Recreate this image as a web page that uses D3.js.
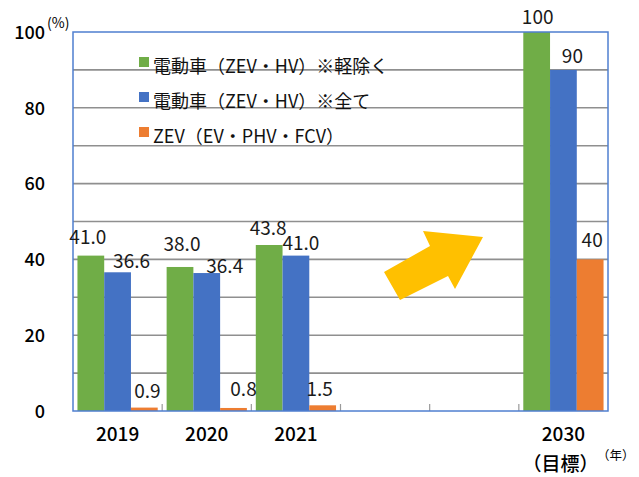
<!DOCTYPE html>
<html><head><meta charset="utf-8">
<script src="https://cdn.jsdelivr.net/npm/d3@7"></script>
<style>
html,body{margin:0;padding:0;background:#fff;}
svg{display:block;font-family:"Noto Sans CJK JP","Noto Sans",sans-serif;}
</style></head>
<body><svg id="c" width="639" height="477"></svg>
<script>
// ---- data ----
const categories = ["2019", "2020", "2021", "", "", "2030"];
const categorySub = ["", "", "", "", "", "（目標）"];
const seriesNames = ["電動車（ZEV・HV）※軽除く", "電動車（ZEV・HV）※全て", "ZEV（EV・PHV・FCV）"];
const seriesExclLight = [41.0, 38.0, 43.8, null, null, 100];
const seriesAll = [36.6, 36.4, 41.0, null, null, 90];
const seriesZEV = [0.9, 0.8, 1.5, null, null, 40];
const labelTexts = [
  ["41.0", "38.0", "43.8", null, null, "100"],
  ["36.6", "36.4", "41.0", null, null, "90"],
  ["0.9", "0.8", "1.5", null, null, "40"]
];
const yTickValues = [0, 20, 40, 60, 80, 100];
const yUnit = "(%)";
const xUnit = "（年）";

// ---- layout ----
const colors = ["#70AD47", "#4472C4", "#ED7D31"];
const series = [seriesExclLight, seriesAll, seriesZEV];
// per-label nudges [dx, gap above bar top]
const nudges = [
  [[-3,12],[2,16],[-1,10],null,null,[1,8]],
  [[14,4],[18,0],[5,6],null,null,[9,7]],
  [[3,10],[10,12],[-3,9],null,null,[2,12]]
];
const L = 73, R = 608, T = 32, B = 411;
const svg = d3.select("#c");

const x0 = d3.scaleBand().domain(d3.range(categories.length)).range([L, R])
  .paddingInner(0.1).paddingOuter(0.05);
const x1 = d3.scaleBand().domain(d3.range(series.length)).range([0, x0.bandwidth()]);
const y = d3.scaleLinear().domain([0, 100]).range([B, T]);

// gridlines every 10
const grid = svg.append("g");
grid.selectAll("line").data(d3.range(10, 100, 10)).join("line")
  .attr("x1", L).attr("x2", R).attr("y1", d => y(d)).attr("y2", d => y(d))
  .attr("stroke", "#8f8f8f").attr("stroke-width", 1.6);

// x boundary ticks
const step = x0.step();
svg.append("g").selectAll("line").data(d3.range(1, categories.length)).join("line")
  .attr("x1", d => L + d * step).attr("x2", d => L + d * step)
  .attr("y1", B).attr("y2", B - 7)
  .attr("stroke", "#9a9a9a").attr("stroke-width", 1.2);

// bars
series.forEach((vals, si) => {
  svg.append("g").selectAll("rect").data(vals.map((v, i) => ({v, i})).filter(d => d.v != null))
    .join("rect")
    .attr("x", d => x0(d.i) + x1(si))
    .attr("width", x1.bandwidth())
    .attr("y", d => y(d.v))
    .attr("height", d => y(0) - y(d.v))
    .attr("fill", colors[si]);
});

// frame (blue)
svg.append("rect").attr("x", L).attr("y", T).attr("width", R - L).attr("height", B - T)
  .attr("fill", "none").attr("stroke", "#4f7fd0").attr("stroke-width", 1.5);

// y axis labels
const yAxis = d3.axisLeft(y).tickValues(yTickValues).tickSize(0).tickPadding(0)
  .tickFormat(d3.format("d"));
const ya = svg.append("g").attr("transform", `translate(${L - 28},0)`).call(yAxis);
ya.select(".domain").remove();
ya.selectAll("text").attr("font-size", 18).attr("fill", "#000")
  .attr("font-family", "'Noto Sans CJK JP'").attr("dx", 0).attr("dy", "0.35em")
  .attr("font-weight", 500);
svg.append("text").attr("x", 47).attr("y", 28).attr("font-size", 14).attr("fill", "#000")
  .text(yUnit);

// x axis labels
const xa = svg.append("g");
categories.forEach((c, i) => {
  const cx = x0(i) + x0.bandwidth() / 2;
  if (c) xa.append("text").attr("x", cx).attr("y", 441).attr("text-anchor", "middle")
    .attr("font-size", 19).attr("font-weight", 500).attr("fill", "#000").text(c);
  if (categorySub[i]) xa.append("text").attr("x", cx - 3).attr("y", 471).attr("text-anchor", "middle")
    .attr("font-size", 19).attr("font-weight", 500).attr("fill", "#000").text(categorySub[i]);
});
svg.append("text").attr("x", 597).attr("y", 460).attr("font-size", 12.5).attr("fill", "#000").text(xUnit);

// data labels
series.forEach((vals, si) => {
  vals.forEach((v, i) => {
    if (v == null) return;
    const n = nudges[si][i];
    svg.append("text")
      .attr("x", x0(i) + x1(si) + x1.bandwidth() / 2 + n[0])
      .attr("y", y(v) - n[1])
      .attr("text-anchor", "middle").attr("font-size", 19).attr("fill", "#1a1a1a")
      .text(labelTexts[si][i]);
  });
});

// legend
const lg = svg.append("g");
seriesNames.forEach((name, i) => {
  const cy = 62 + i * 35;
  lg.append("rect").attr("x", 139).attr("y", cy - 5).attr("width", 10).attr("height", 10).attr("fill", colors[i]);
  lg.append("text").attr("x", 153).attr("y", cy + 3).attr("dominant-baseline", "central")
    .attr("font-size", 18).attr("fill", "#111").text(name);
});

// yellow arrow (decoration)
const arrow = [[384,272],[400,300],[448,276],[455,289],[483,237],[423,231],[430,246]];
svg.append("path").attr("d", d3.line()(arrow) + "Z").attr("fill", "#FFC000");
</script></body></html>
